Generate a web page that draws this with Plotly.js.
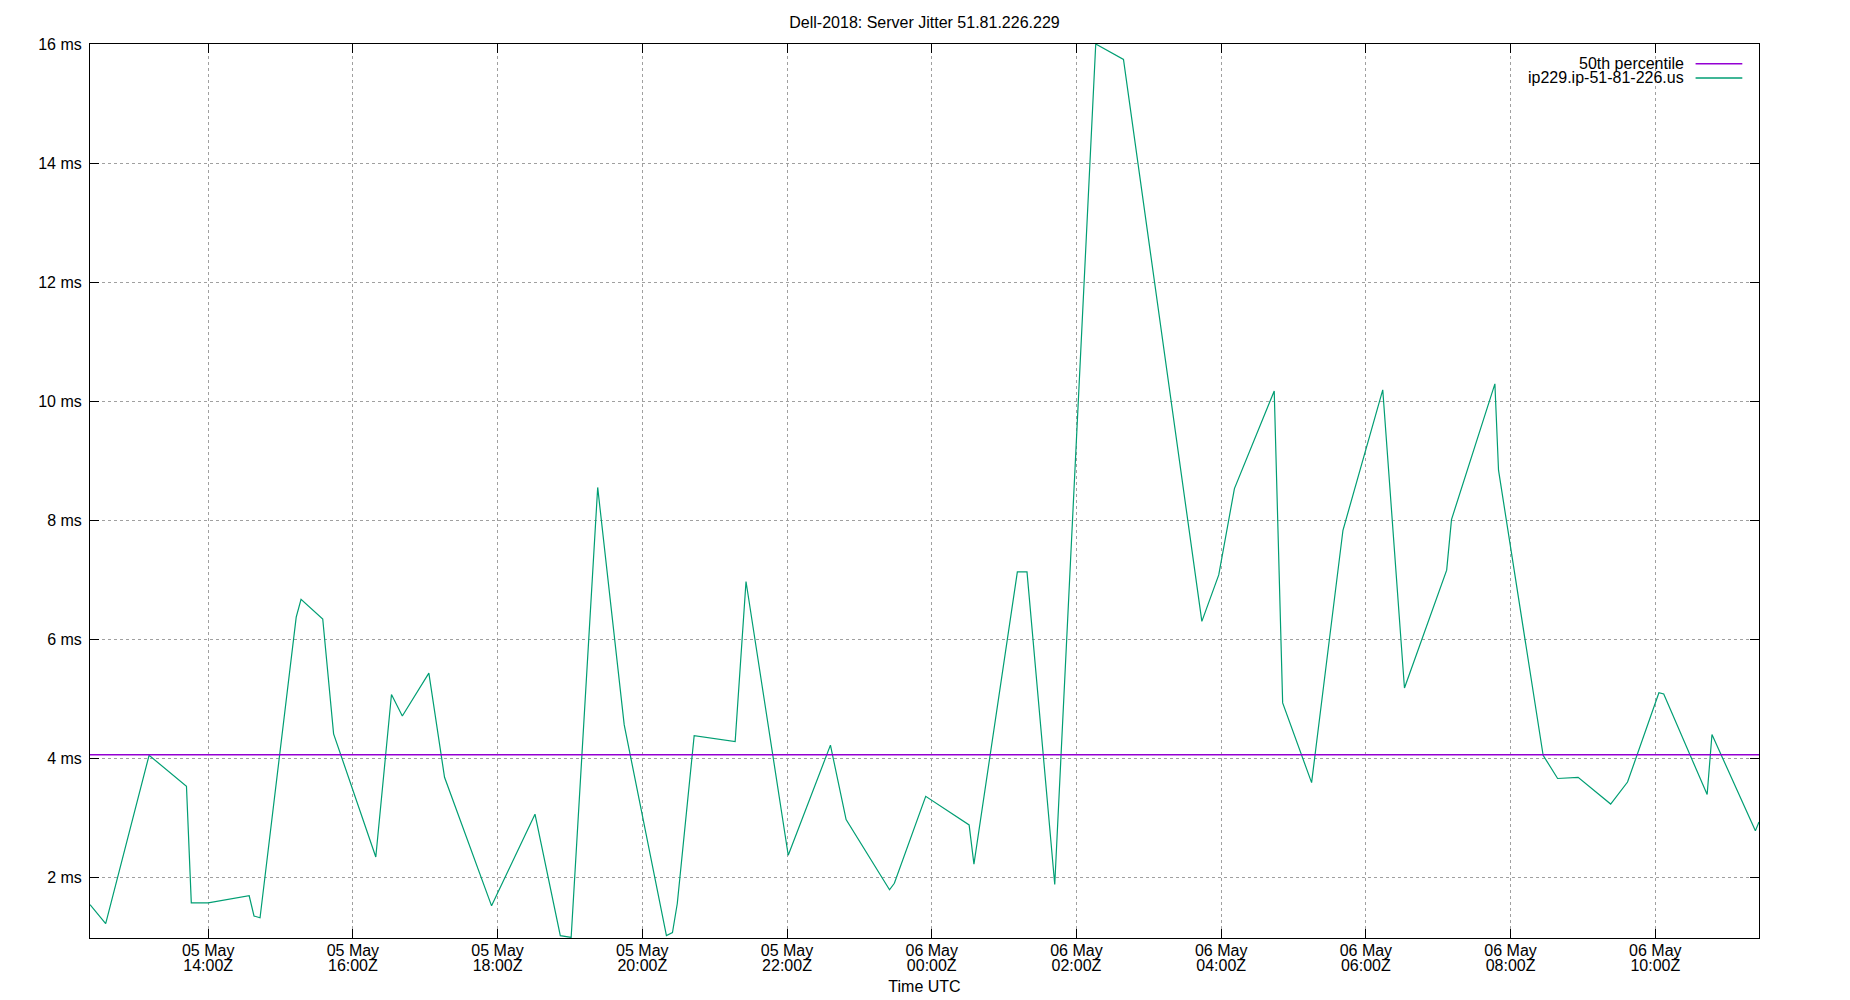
<!DOCTYPE html>
<html>
<head>
<meta charset="utf-8">
<script src="https://cdn.plot.ly/plotly-3.0.1.min.js"></script>
<style>
  html, body { margin: 0; padding: 0; background: #fff; }
  #chart { width: 1850px; height: 1000px; }
</style>
</head>
<body>
<div id="chart"></div>
<script>
// jitter samples (UTC)
var times = [
  '2024-05-05 12:22', '2024-05-05 12:35', '2024-05-05 13:11', '2024-05-05 13:42',
  '2024-05-05 13:46', '2024-05-05 14:00', '2024-05-05 14:34', '2024-05-05 14:38',
  '2024-05-05 14:43', '2024-05-05 15:13', '2024-05-05 15:17', '2024-05-05 15:35',
  '2024-05-05 15:44', '2024-05-05 16:19', '2024-05-05 16:32', '2024-05-05 16:41',
  '2024-05-05 17:03', '2024-05-05 17:16', '2024-05-05 17:55', '2024-05-05 18:31',
  '2024-05-05 18:52', '2024-05-05 19:01', '2024-05-05 19:23', '2024-05-05 19:45',
  '2024-05-05 20:20', '2024-05-05 20:25', '2024-05-05 20:29', '2024-05-05 20:43',
  '2024-05-05 21:17', '2024-05-05 21:26', '2024-05-05 22:01', '2024-05-05 22:36',
  '2024-05-05 22:49', '2024-05-05 23:25', '2024-05-05 23:29', '2024-05-05 23:55',
  '2024-05-06 00:31', '2024-05-06 00:35', '2024-05-06 01:11', '2024-05-06 01:19',
  '2024-05-06 01:42', '2024-05-06 02:16', '2024-05-06 02:39', '2024-05-06 03:44',
  '2024-05-06 03:58', '2024-05-06 04:11', '2024-05-06 04:44', '2024-05-06 04:51',
  '2024-05-06 05:15', '2024-05-06 05:35', '2024-05-06 05:41', '2024-05-06 06:14',
  '2024-05-06 06:32', '2024-05-06 07:07', '2024-05-06 07:11', '2024-05-06 07:47',
  '2024-05-06 07:50', '2024-05-06 08:27', '2024-05-06 08:39', '2024-05-06 08:56',
  '2024-05-06 09:23', '2024-05-06 09:37', '2024-05-06 10:03', '2024-05-06 10:07',
  '2024-05-06 10:43', '2024-05-06 10:47', '2024-05-06 11:23', '2024-05-06 11:26'
];
var jitter = [
  1.54, 1.22, 4.05, 3.53,
  1.57, 1.57, 1.69, 1.35,
  1.32, 6.37, 6.67, 6.34,
  4.41, 2.34, 5.07, 4.71,
  5.43, 3.68, 1.52, 3.06,
  1.02, 0.99, 8.55, 4.56,
  1.02, 1.07, 1.56, 4.38,
  4.28, 6.97, 2.37, 4.22,
  2.97, 1.79, 1.90, 3.36,
  2.88, 2.22, 7.13, 7.13,
  1.88, 16.0, 15.74, 6.30,
  7.08, 8.53, 10.17, 4.93,
  3.59, 6.89, 7.83, 10.19,
  5.18, 7.16, 8.01, 10.29,
  8.84, 4.05, 3.66, 3.68,
  3.23, 3.60, 5.10, 5.08,
  3.39, 4.40, 2.78, 2.93
];
var p50 = 4.06;

var hostName = 'ip229.ip-51-81-226.us';
var p50Name = '50th percentile';
var yTicks = [2, 4, 6, 8, 10, 12, 14, 16];
var yTickText = yTicks.map(function (v) { return v + ' ms'; });

var font = 'Liberation Sans, Arial, sans-serif';
var purple = '#9400d3';
var green = '#009e73';
var xRange = [times[0], times[times.length - 1]];

var data = [
  {x: xRange, y: [p50, p50], xaxis: 'x2',
   name: p50Name, type: 'scatter', mode: 'lines',
   line: {color: purple, width: 1.5}, hoverinfo: 'skip'},
  {x: times, y: jitter, name: hostName, type: 'scatter', mode: 'lines',
   line: {color: green, width: 1.2}}
];

// gnuplot-style key: right aligned text, sample line on the right
var keyY = [0.978, 0.962];
var annotations = [p50Name, hostName].map(function (t, i) {
  return {xref: 'paper', yref: 'paper', x: 0.956, y: keyY[i],
          xanchor: 'right', yanchor: 'middle', text: t, showarrow: false,
          font: {family: font, size: 16, color: '#000'}};
});
var shapes = [purple, green].map(function (c, i) {
  return {type: 'line', xref: 'paper', yref: 'paper',
          x0: 0.962, x1: 0.990, y0: keyY[i], y1: keyY[i],
          line: {color: c, width: 1.5}};
});

var axisBase = {
  ticks: 'inside', ticklen: 9, tickcolor: '#000', tickwidth: 1,
  showline: true, linecolor: '#000', linewidth: 1, mirror: 'ticks',
  showgrid: true, gridcolor: '#a0a0a0', griddash: 'dot', gridwidth: 1,
  zeroline: false, automargin: false
};

var layout = {
  width: 1850, height: 1000,
  margin: {l: 90, r: 91, t: 44, b: 62},
  paper_bgcolor: '#fff', plot_bgcolor: '#fff',
  font: {family: font, size: 16, color: '#000'},
  showlegend: false,
  title: {text: 'Dell-2018: Server Jitter 51.81.226.229',
          x: 0.5, xref: 'paper', y: 0.978, yanchor: 'middle',
          font: {family: font, size: 16, color: '#000'}},
  // date line of the tick labels
  xaxis: Object.assign({}, axisBase, {
    type: 'date', range: xRange,
    tick0: '2024-05-05 00:00', dtick: 7200000,
    tickformat: '%d %b', ticklabelstandoff: -2
  }),
  // time line of the tick labels, drawn just under the dates
  xaxis2: Object.assign({}, axisBase, {
    type: 'date', range: xRange, overlaying: 'x', side: 'bottom',
    tick0: '2024-05-05 00:00', dtick: 7200000,
    tickformat: '%H:%MZ', ticklabelstandoff: 16,
    showgrid: false, ticks: '', showline: false, mirror: false,
    title: {text: 'Time UTC', standoff: 7, font: {family: font, size: 16}}
  }),
  yaxis: Object.assign({}, axisBase, {
    range: [0.98, 16], tickvals: yTicks, ticktext: yTickText,
    ticklabelstandoff: 4
  }),
  annotations: annotations,
  shapes: shapes
};

Plotly.newPlot('chart', data, layout, {staticPlot: true});
</script>
</body>
</html>
